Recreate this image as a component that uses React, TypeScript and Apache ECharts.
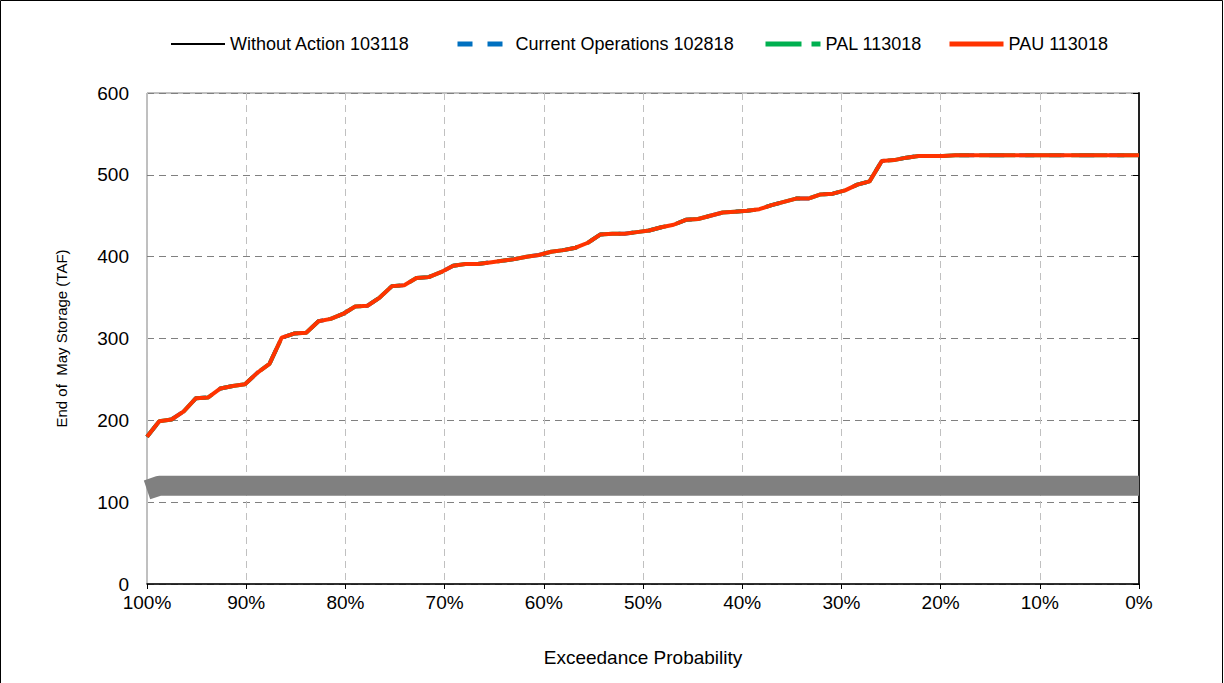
import React, { useEffect, useRef } from "react";
import * as echarts from "echarts";

// End of May storage (TAF), sorted ascending; plotted against exceedance probability
const storage = [
  180, 199, 201, 211, 227, 228, 239, 242, 244, 258,
  269, 301, 306, 307, 321, 324, 330, 339, 340, 350,
  364, 365, 374, 375, 381, 389, 391, 391, 393, 395,
  397, 400, 402, 406, 408, 411, 417, 427, 428, 428,
  430, 432, 436, 439, 445, 446, 450, 454, 455, 456,
  458, 463, 467, 471, 471, 476, 477, 481, 488, 492,
  517, 518, 521, 523, 523, 523, 524, 524, 524, 524,
  524, 524, 524, 524, 524, 524, 524, 524, 524, 524,
  524, 524,
];

// dead-pool band (thick grey line): exceedance %, storage TAF
const bandX = [100, 98.77, 0];
const bandY = [115, 120, 120];

const seriesNames = [
  "Without Action 103118",
  "Current Operations 102818",
  "PAL 113018",
  "PAU 113018",
];
const yTicks = [0, 100, 200, 300, 400, 500, 600];
const xTicks = [0, 10, 20, 30, 40, 50, 60, 70, 80, 90, 100];

export default function App() {
  const ref = useRef<HTMLDivElement>(null);

  useEffect(() => {
    if (!ref.current) return;
    const chart = echarts.init(ref.current, undefined, { renderer: "svg" });
    const n = storage.length;
    const pts = storage.map((v, i) => [100 - (i * 100) / (n - 1), v]);
    const band = bandX.map((x, i) => [x, bandY[i]]);
    const font = "'Liberation Sans', Arial, sans-serif";

    const styles = [
      { color: "#000000", width: 2, type: "solid" as any },
      { color: "#0070C0", width: 4, type: [15, 15] as any },
      { color: "#00B050", width: 4, type: [36, 10] as any },
      { color: "#FF3300", width: 4, type: "solid" as any },
    ];
    const legendPos = [
      { left: 170, w: 54, pad: 0 },
      { left: 455, w: 45, pad: 8 },
      { left: 763, w: 55, pad: 0 },
      { left: 947, w: 54, pad: 0 },
    ];

    const option: any = {
      animation: false,
      backgroundColor: "#ffffff",
      textStyle: { fontFamily: font },
      graphic: [
        {
          type: "rect",
          shape: { x: 0.5, y: 0.5, width: 1222, height: 700 },
          style: { fill: "none", stroke: "#000000", lineWidth: 1 },
          silent: true,
        },
      ],
      legend: seriesNames.map((nm, i) => ({
        data: [nm],
        left: legendPos[i].left,
        top: 35,
        itemWidth: legendPos[i].w,
        itemHeight: 16,
        itemGap: 0,
        padding: 0,
        selectedMode: false,
        itemStyle: { opacity: 0 },
        lineStyle: {
          color: styles[i].color,
          width: styles[i].width + (i === 0 ? 0 : 1),
          type: styles[i].type,
          cap: "butt",
        },
        textStyle: {
          fontFamily: font,
          fontSize: 18,
          color: "#000000",
          padding: [0, 0, 0, legendPos[i].pad],
        },
      })),
      grid: {
        left: 147,
        right: 85,
        top: 93,
        bottom: 99,
        show: true,
        borderColor: "#808080",
        borderWidth: 1,
        backgroundColor: "transparent",
      },
      xAxis: {
        type: "value",
        min: 0,
        max: 100,
        interval: 10,
        inverse: true,
        name: "Exceedance Probability",
        nameLocation: "middle",
        nameGap: 64,
        nameTextStyle: { fontFamily: font, fontSize: 19, color: "#000000" },
        axisLine: { show: true, lineStyle: { color: "#000000", width: 1.5 } },
        axisTick: { show: true, inside: false, length: 5, lineStyle: { color: "#000000" } },
        axisLabel: {
          formatter: (v: number) => (xTicks.includes(v) ? `${v}%` : ""),
          fontFamily: font,
          fontSize: 19,
          color: "#000000",
          margin: 9,
        },
        splitLine: { show: true, lineStyle: { color: "#C0C0C0", type: [7, 5], width: 1 } },
      },
      yAxis: {
        type: "value",
        min: 0,
        max: 600,
        interval: 100,
        name: "End of  May Storage (TAF)",
        nameLocation: "middle",
        nameGap: 78,
        nameTextStyle: { fontFamily: font, fontSize: 15, color: "#000000" },
        axisLine: { show: true, lineStyle: { color: "#222222", width: 2 } },
        axisTick: { show: true, inside: false, length: 6, lineStyle: { color: "#000000" } },
        axisLabel: {
          formatter: (v: number) => (yTicks.includes(v) ? `${v}` : ""),
          fontFamily: font,
          fontSize: 19,
          color: "#000000",
          margin: 18,
        },
        splitLine: { show: true, lineStyle: { color: "#808080", type: [7, 5], width: 1 } },
      },
      series: [
        {
          name: "Dead Pool",
          type: "line",
          data: band,
          symbol: "none",
          lineStyle: { color: "#808080", width: 20, cap: "butt" },
          itemStyle: { color: "#808080" },
          clip: true,
          z: 1,
        },
        ...seriesNames.map((nm, i) => ({
          name: nm,
          type: "line",
          data: pts,
          symbol: "none",
          lineStyle: { ...styles[i] },
          itemStyle: { color: styles[i].color },
          clip: true,
          z: 2 + i,
        })),
      ],
    };

    chart.setOption(option);
    return () => chart.dispose();
  }, []);

  return (
    <div
      ref={ref}
      style={{ position: "absolute", left: 0, top: 0, width: 1224, height: 683 }}
    />
  );
}
